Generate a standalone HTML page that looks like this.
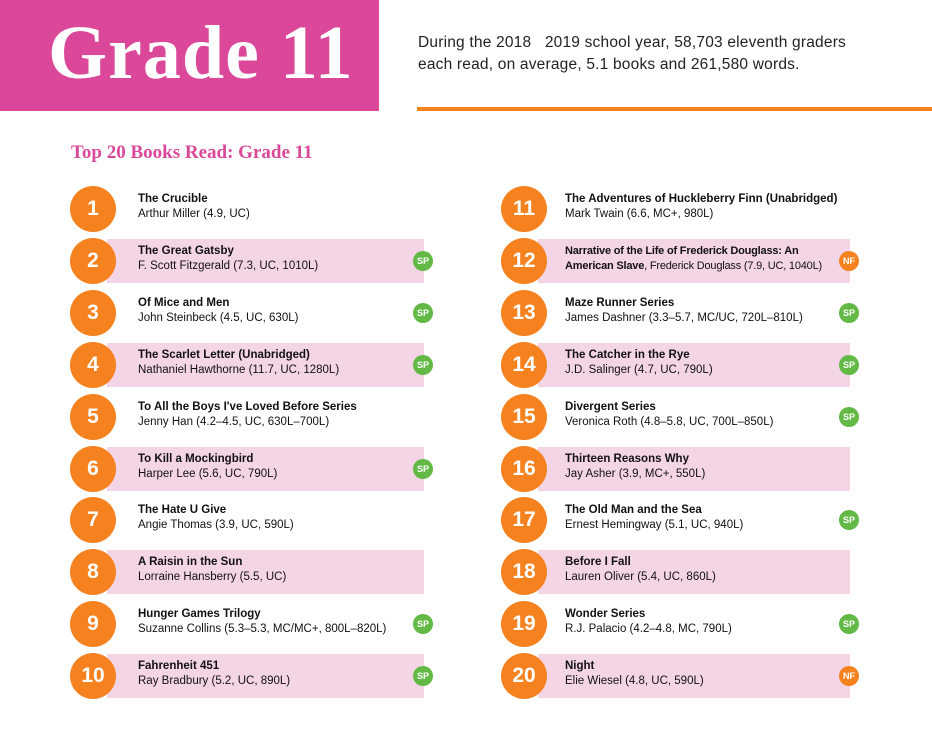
<!DOCTYPE html>
<html><head><meta charset="utf-8"><style>
body{margin:0;width:932px;height:741px;background:#fff;position:relative;overflow:hidden;font-family:"Liberation Sans",sans-serif;}
.a{position:absolute;}
#hdr{left:0;top:0;width:379px;height:111px;background:#db4899;}
#hdr span{position:absolute;left:48px;top:10px;color:#fff;font:bold 76px "Liberation Serif",serif;letter-spacing:1px;}
#desc{left:418px;top:32px;font-size:15.5px;line-height:22px;color:#222;letter-spacing:0.2px;}
#line{left:417px;top:107px;width:515px;height:4px;background:#f5821f;}
#sub{left:71px;top:142px;color:#db4899;font:bold 19px "Liberation Serif",serif;}
.band{position:absolute;height:44px;background:#f4d5e6;}
.circ{position:absolute;width:46px;height:46px;border-radius:50%;background:#f5821f;color:#fff;font-weight:bold;font-size:21px;text-align:center;line-height:46px;}
.txt{position:absolute;font-size:11.5px;line-height:15px;color:#111;white-space:nowrap;}
.txt b{font-weight:bold;}
.badge{position:absolute;width:20px;height:20px;border-radius:50%;color:#fff;font-size:9px;text-align:center;line-height:20px;font-weight:bold;}
</style></head><body>
<div id="hdr" class="a"><span>Grade 11</span></div>
<div id="desc" class="a">During the 2018 &nbsp; 2019 school year, 58,703 eleventh graders<br>each read, on average, 5.1 books and 261,580 words.</div>
<div id="line" class="a"></div>
<div id="sub" class="a">Top 20 Books Read: Grade 11</div>
<div id="list"></div>
<script>
const titles=["The Crucible","The Great Gatsby","Of Mice and Men","The Scarlet Letter (Unabridged)","To All the Boys I've Loved Before Series","To Kill a Mockingbird","The Hate U Give","A Raisin in the Sun","Hunger Games Trilogy","Fahrenheit 451","The Adventures of Huckleberry Finn (Unabridged)","Narrative of the Life of Frederick Douglass: An<br>American Slave","Maze Runner Series","The Catcher in the Rye","Divergent Series","Thirteen Reasons Why","The Old Man and the Sea","Before I Fall","Wonder Series","Night"];
const authors=["Arthur Miller (4.9, UC)","F. Scott Fitzgerald (7.3, UC, 1010L)","John Steinbeck (4.5, UC, 630L)","Nathaniel Hawthorne (11.7, UC, 1280L)","Jenny Han (4.2–4.5, UC, 630L–700L)","Harper Lee (5.6, UC, 790L)","Angie Thomas (3.9, UC, 590L)","Lorraine Hansberry (5.5, UC)","Suzanne Collins (5.3–5.3, MC/MC+, 800L–820L)","Ray Bradbury (5.2, UC, 890L)","Mark Twain (6.6, MC+, 980L)","Frederick Douglass (7.9, UC, 1040L)","James Dashner (3.3–5.7, MC/UC, 720L–810L)","J.D. Salinger (4.7, UC, 790L)","Veronica Roth (4.8–5.8, UC, 700L–850L)","Jay Asher (3.9, MC+, 550L)","Ernest Hemingway (5.1, UC, 940L)","Lauren Oliver (5.4, UC, 860L)","R.J. Palacio (4.2–4.8, MC, 790L)","Elie Wiesel (4.8, UC, 590L)"];
const badges=["","SP","SP","SP","","SP","","","SP","SP","","NF","SP","SP","SP","","SP","","SP","NF"];
const L=document.getElementById('list');
for(let i=0;i<20;i++){
  const col=i<10?0:1, r=i%10;
  const cx=col?524:93, cy=209+r*51.9;
  const bandL=col?538:107, bandR=col?850:424;
  if(i%2==1){const b=document.createElement('div');b.className='band';
    
    
    b.style.left=bandL+'px';b.style.top=(cy-22)+'px';b.style.width=(bandR-bandL)+'px';L.appendChild(b);}
  const c=document.createElement('div');c.className='circ';
  
  
  c.style.left=(cx-23)+'px';c.style.top=(cy-23)+'px';c.textContent=i+1;L.appendChild(c);
  const t=document.createElement('div');t.className='txt';
  
  
  t.style.left=(col?565:138)+'px';t.style.top=(cy-17)+'px';
  if(i==11){t.style.fontSize='11px';t.style.letterSpacing='-0.2px';}
  t.innerHTML=i==11?'<b>'+titles[i]+'</b>, '+authors[i]:'<b>'+titles[i]+'</b><br>'+authors[i];
  L.appendChild(t);
  if(badges[i]){const g=document.createElement('div');g.className='badge';
    
    
    g.style.background=badges[i]=='SP'?'#62b946':'#f5821f';
    g.style.left=(bandR-11)+'px';g.style.top=(cy-10)+'px';g.textContent=badges[i];L.appendChild(g);}
}
</script>
</body></html>
